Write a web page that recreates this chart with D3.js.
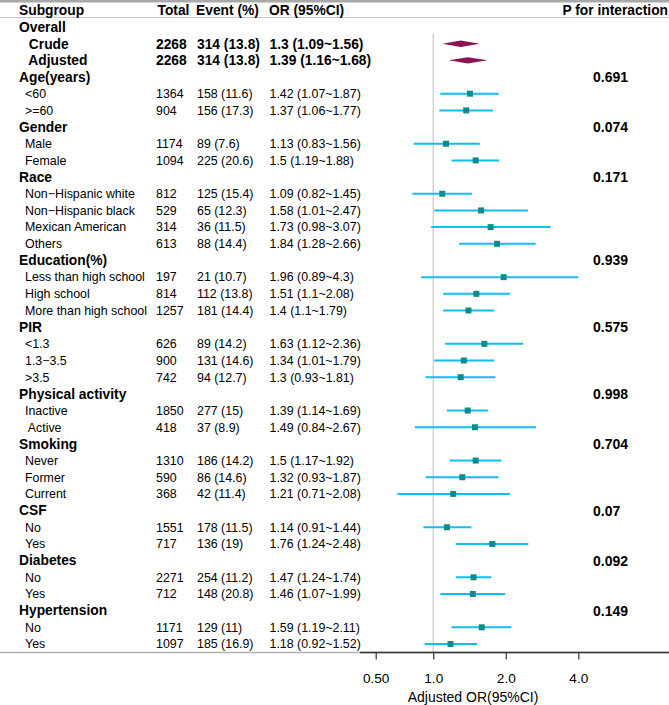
<!DOCTYPE html>
<html><head><meta charset="utf-8">
<script src="https://cdn.jsdelivr.net/npm/d3@7"></script>
<style>
html,body{margin:0;padding:0;background:#fff;}
svg{display:block;font-family:"Liberation Sans",Arial,Helvetica,sans-serif;}
text{white-space:pre;}
</style></head>
<body><svg id="c" width="669" height="705"></svg>
<script>
// ---- data ----
const labels = ["Overall"," Crude"," Adjusted","Age(years)","<60",">=60","Gender","Male","Female","Race",
 "Non\u2212Hispanic white","Non\u2212Hispanic black","Mexican American","Others","Education(%)",
 "Less than high school","High school","More than high school","PIR","<1.3","1.3\u22123.5",">3.5",
 "Physical activity","Inactive"," Active","Smoking","Never","Former","Current","CSF","No","Yes",
 "Diabetes","No","Yes","Hypertension","No","Yes"];
const rowType = ["H","O","O","H","S","S","H","S","S","H","S","S","S","S","H","S","S","S","H","S","S","S",
 "H","S","S","H","S","S","S","H","S","S","H","S","S","H","S","S"];
const totals = ["","2268","2268","","1364","904","","1174","1094","","812","529","314","613","","197","814","1257",
 "","626","900","742","","1850","418","","1310","590","368","","1551","717","","2271","712","","1171","1097"];
const events = ["","314 (13.8)","314 (13.8)","","158 (11.6)","156 (17.3)","","89 (7.6)","225 (20.6)","",
 "125 (15.4)","65 (12.3)","36 (11.5)","88 (14.4)","","21 (10.7)","112 (13.8)","181 (14.4)","",
 "89 (14.2)","131 (14.6)","94 (12.7)","","277 (15)","37 (8.9)","","186 (14.2)","86 (14.6)","42 (11.4)","",
 "178 (11.5)","136 (19)","","254 (11.2)","148 (20.8)","","129 (11)","185 (16.9)"];
const orEst = [null,1.3,1.39,null,1.42,1.37,null,1.13,1.5,null,1.09,1.58,1.73,1.84,null,1.96,1.51,1.4,null,
 1.63,1.34,1.3,null,1.39,1.49,null,1.5,1.32,1.21,null,1.14,1.76,null,1.47,1.46,null,1.59,1.18];
const orLow = [null,1.09,1.16,null,1.07,1.06,null,0.83,1.19,null,0.82,1.01,0.98,1.28,null,0.89,1.1,1.1,null,
 1.12,1.01,0.93,null,1.14,0.84,null,1.17,0.93,0.71,null,0.91,1.24,null,1.24,1.07,null,1.19,0.92];
const orHigh = [null,1.56,1.68,null,1.87,1.77,null,1.56,1.88,null,1.45,2.47,3.07,2.66,null,4.3,2.08,1.79,null,
 2.36,1.79,1.81,null,1.69,2.67,null,1.92,1.87,2.08,null,1.44,2.48,null,1.74,1.99,null,2.11,1.52];
const pInteraction = ["","","","0.691","","","0.074","","","0.171","","","","","0.939","","","","0.575","","","",
 "0.998","","","0.704","","","","0.07","","","0.092","","","0.149","",""];
const tickValues = [0.5,1,2,4];
const tickLabels = ["0.50","1.0","2.0","4.0"];
const headers = ["Subgroup","Total","Event (%)","OR (95%CI)","P for interaction"];
const axisTitle = "Adjusted OR(95%CI)";

function fmt(v){return String(v);}
const orText = orEst.map((e,i)=> e==null?"":`${fmt(e)} (${fmt(orLow[i])}~${fmt(orHigh[i])})`);

// ---- layout ----
const svg = d3.select("#c");
const y = d3.scaleLinear().domain([0,37]).range([27,644]);
// log scale: 1 -> 433.3, 72.5 px per doubling; lower limit clamps the 0.50 tick as in the original
const x = d3.scaleLog().domain([0.577,4]).range([375.7,578.3]).clamp(true);
const axisY = 652.5;
const colX = {label:19, sub:25, total:156, event:197, or:269.5, p:593};

// top lines
svg.append("rect").attr("x",0).attr("y",0).attr("width",669).attr("height",2.5).attr("fill","#a8a8a8");
svg.append("line").attr("x1",0).attr("x2",669).attr("y1",17.5).attr("y2",17.5).attr("stroke","#c4c4c4").attr("stroke-width",1);

// header
const hy = 10;
const hdr = svg.append("g").attr("font-weight","bold").attr("font-size",13.8);
hdr.append("text").attr("x",colX.label).attr("y",hy).attr("dy","0.35em").text(headers[0]);
hdr.append("text").attr("x",157.5).attr("y",hy).attr("dy","0.35em").text(headers[1]);
hdr.append("text").attr("x",196).attr("y",hy).attr("dy","0.35em").text(headers[2]);
hdr.append("text").attr("x",269).attr("y",hy).attr("dy","0.35em").text(headers[3]);
hdr.append("text").attr("x",668).attr("y",hy).attr("dy","0.35em").attr("text-anchor","end").text(headers[4]);

// reference line
svg.append("line").attr("x1",x(1)).attr("x2",x(1)).attr("y1",33).attr("y2",axisY)
  .attr("stroke","#c8c8c8").attr("stroke-width",1.2);

// rows
const rows = svg.append("g").selectAll("g").data(labels).join("g")
  .attr("transform",(d,i)=>`translate(0,${y(i)})`);
rows.append("text")
  .attr("x",(d,i)=> rowType[i]==="H"? colX.label : colX.sub)
  .attr("dy","0.35em")
  .attr("font-weight",(d,i)=> rowType[i]==="S"?"normal":"bold")
  .attr("font-size",(d,i)=> rowType[i]==="S"?12.4:13.8)
  .text(d=>d);
const cols = [["total",totals],["event",events],["or",orText]];
cols.forEach(([k,arr])=>{
  rows.append("text").attr("x",colX[k]).attr("dy","0.35em")
    .attr("font-weight",(d,i)=> rowType[i]==="O"?"bold":"normal")
    .attr("font-size",(d,i)=> rowType[i]==="O"?13.8:12.4)
    .text((d,i)=>arr[i]);
});
rows.append("text").attr("x",colX.p).attr("dy","0.35em").attr("font-weight","bold").attr("font-size",14)
  .text((d,i)=>pInteraction[i]);

// CI lines + squares
const idx = d3.range(labels.length).filter(i=>orEst[i]!=null);
const subIdx = idx.filter(i=>rowType[i]==="S");
const ovIdx = idx.filter(i=>rowType[i]==="O");
svg.append("g").selectAll("line").data(subIdx).join("line")
  .attr("x1",i=>x(orLow[i])).attr("x2",i=>x(orHigh[i]))
  .attr("y1",i=>y(i)).attr("y2",i=>y(i))
  .attr("stroke","#12bdf0").attr("stroke-width",2);
const sq = 6;
svg.append("g").selectAll("rect").data(subIdx).join("rect")
  .attr("x",i=>x(orEst[i])-sq/2).attr("y",i=>y(i)-sq/2)
  .attr("width",sq).attr("height",sq).attr("fill","#0b8b8b");
// diamonds
svg.append("g").selectAll("path").data(ovIdx).join("path")
  .attr("d",i=>{const c=y(i),h=3.2;return `M${x(orLow[i])},${c}L${x(orEst[i])},${c-h}L${x(orHigh[i])},${c}L${x(orEst[i])},${c+h}Z`;})
  .attr("fill","#8b1553");

// bottom lines & axis
svg.append("line").attr("x1",0).attr("x2",669).attr("y1",axisY).attr("y2",axisY).attr("stroke","#b0b0b0").attr("stroke-width",1.3);
svg.append("line").attr("x1",360).attr("x2",669).attr("y1",axisY).attr("y2",axisY).attr("stroke","#333").attr("stroke-width",1.3);
const ax = svg.append("g").attr("transform",`translate(0,${axisY})`)
  .call(d3.axisBottom(x).tickValues(tickValues).tickFormat((d,i)=>tickLabels[i]).tickSize(7).tickPadding(14));
ax.select(".domain").remove();
ax.selectAll(".tick line").attr("stroke","#333").attr("stroke-width",1.2);
ax.selectAll(".tick text").attr("font-size",13.6).attr("fill","#000").attr("font-family","'Liberation Sans',Arial,sans-serif");
svg.append("text").attr("x",473).attr("y",697).attr("dy","0.35em").attr("text-anchor","middle")
  .attr("font-size",14).text(axisTitle);
</script></body></html>
